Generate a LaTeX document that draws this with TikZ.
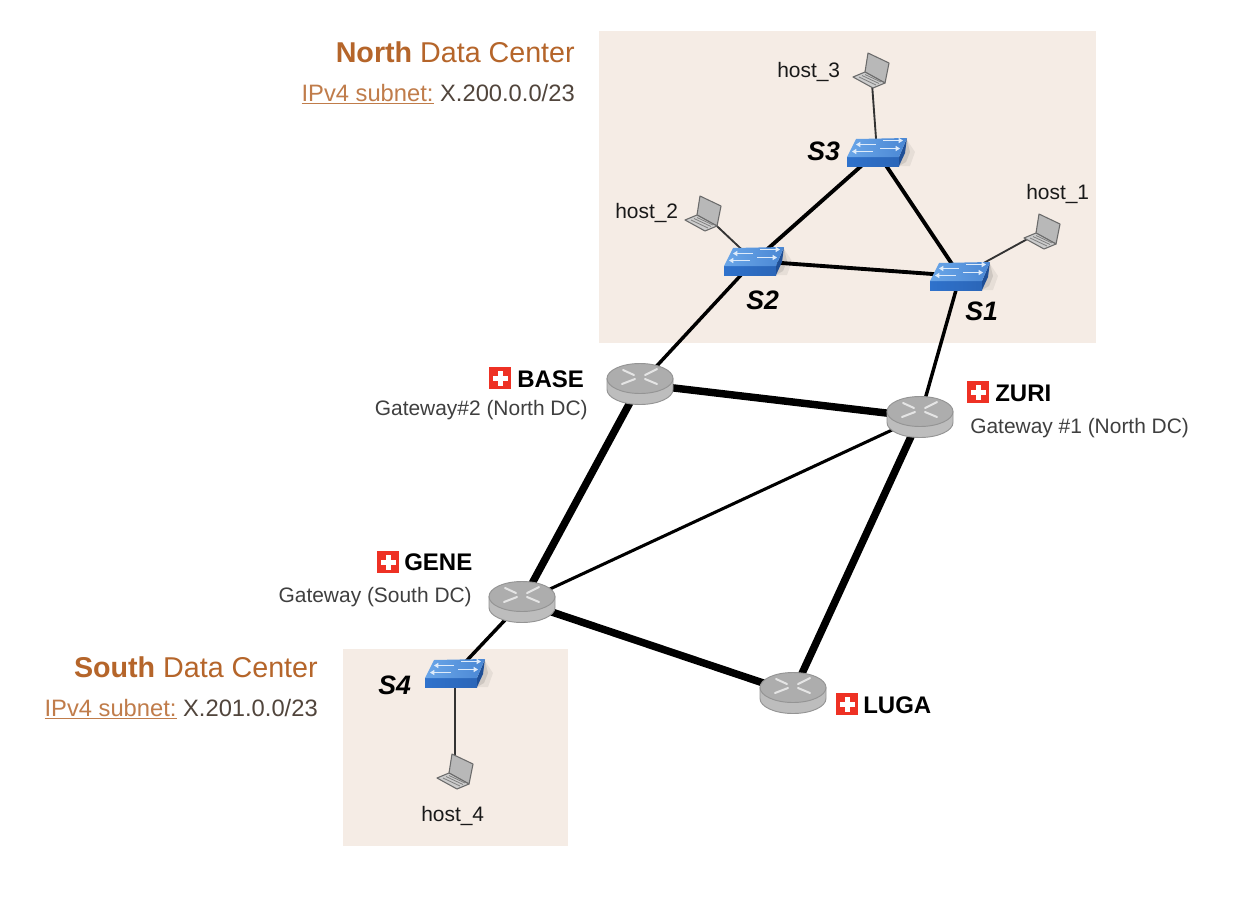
\documentclass[tikz,border=0pt]{standalone}
\usepackage{fontspec}
\setmainfont{Liberation Sans}
\usetikzlibrary{calc,arrows.meta}
\definecolor{panel}{HTML}{F5ECE5}
\definecolor{brownA}{HTML}{B5652A}
\definecolor{txt}{HTML}{3F3F3F}
\definecolor{flagred}{HTML}{EE3124}
\definecolor{HSBlue1}{HTML}{2B66B8}
\definecolor{HSBlue2}{HTML}{2F72CC}
\definecolor{HSBlue3}{HTML}{1F4F96}
\definecolor{HSBlue4}{HTML}{6AA6E8}
\definecolor{HSBlue5}{HTML}{4A87D4}
\tikzset{
  x=0.75pt,y=-0.75pt,
  panelbox/.style={fill=panel,draw=none},
  pt/.style={coordinate},
  heavy/.style={line width=5.6pt,black},
  medium/.style={line width=2.9pt,black},
  thinlink/.style={line width=2.3pt,black},
  slim/.style={line width=2.6pt,black},
  hostlink/.style={line width=1.4pt,black!80},
  title/.style={anchor=base east,inner sep=0pt,font=\fontsize{21.5}{24}\selectfont,text=brownA},
  subnet/.style={anchor=base east,inner sep=0pt,font=\fontsize{17.8}{20}\selectfont,text=brownA!85!white},
  gw/.style={inner sep=0pt,font=\fontsize{15.7}{18}\selectfont,text=txt},
  rname/.style={anchor=base west,inner sep=0pt,font=\fontsize{18}{20}\bfseries\selectfont,text=black},
  sname/.style={anchor=base west,inner sep=0pt,font=\fontsize{20}{24}\bfseries\itshape\selectfont,text=black},
  hname/.style={inner sep=0pt,font=\fontsize{15.7}{18}\selectfont,text=black!90},
  rarrow/.style={white!90!black,line width=1.5pt,line cap=round},
  swarrow/.style={white!78!HSBlue4,line width=1.1pt,-{Triangle[length=3.2pt,width=3.8pt]}},
  routericon/.pic={
    \draw[black!42,line width=.7pt,fill=black!26] (-33,-5.5) -- (-33,5.5) arc[start angle=180,end angle=0,x radius=33,y radius=15] -- (33,-5.5) -- cycle;
    \draw[black!42,line width=.7pt,fill=black!32] (0,-5.5) ellipse[x radius=33,y radius=15];
    \draw[rarrow] (-17,-14) -- (-6,-9);
    \draw[rarrow] (5,-9) -- (17,-15);
    \draw[rarrow] (-18,0) -- (-5,-5);
    \draw[rarrow] (5,-5) -- (17,0);
  },
  switchicon/.pic={
    \fill[black,opacity=.06] (22,14) -- (33,14) -- (38,0) -- (30,-12) -- cycle;
    \fill[black,opacity=.10] (22,14) -- (29,10) -- (33,0) -- (30,-12) -- cycle;
    \shade[left color=HSBlue2,right color=HSBlue1] (-30,5) -- (22,5) -- (22,14) -- (-30,14) -- cycle;
    \fill[HSBlue3] (22,5) -- (30,-14) -- (28,1) -- (22,14) -- cycle;
    \shade[left color=HSBlue4,right color=HSBlue5] (-21,-13) -- (30,-14) -- (22,5) -- (-30,5) -- cycle;
    \draw[swarrow] (6,-11.5) -- (26,-11.5);
    \draw[swarrow] (3,-3.5) -- (23,-3.5);
    \draw[swarrow] (-1,-7.5) -- (-21,-7.5);
    \draw[swarrow] (-4,-0.5) -- (-25,-0.5);
  },
  laptopicon/.pic={
    \fill[black!28,draw=black!58,line width=.8pt,line join=round] (-3,-17) -- (18,-7) -- (14,13) -- (-6,2) -- cycle;
    \fill[black!20,draw=black!58,line width=.8pt,line join=round] (-6,2) -- (14,13) -- (2,18) -- (-18,7) -- cycle;
    \draw[black!50,line width=.6pt] (-12,7) -- (5,15);
    \draw[black!50,line width=.6pt] (-9,5.5) -- (8,13.5);
    \draw[black!50,line width=.6pt] (-6,4.5) -- (10,12);
  },
  flagicon/.pic={
    \fill[flagred] (-11,-11) rectangle (11,11);
    \fill[white] (-7.5,-2.5) rectangle (7.5,2.5);
    \fill[white] (-2.5,-7.5) rectangle (2.5,7.5);
  }
}
\begin{document}
\begin{tikzpicture}
\useasboundingbox (0,0) rectangle (1260,896);
\fill[white] (0,0) rectangle (1260,896);
\fill[panelbox] (599,31) rectangle (1096,343);
\fill[panelbox] (343,649) rectangle (568,846);
% anchor points
\node[pt] (s3) at (877,152) {};
\node[pt] (s2) at (754,261) {};
\node[pt] (s1) at (960,276) {};
\node[pt] (s4) at (455,673) {};
\node[pt] (base) at (640,384) {};
\node[pt] (zuri) at (920,417) {};
\node[pt] (gene) at (522,602) {};
\node[pt] (luga) at (793,693) {};
\node[pt] (h3) at (871,70) {};
\node[pt] (h2) at (703,213) {};
\node[pt] (h1) at (1042,231) {};
\node[pt] (h4) at (455,771) {};
% links
\draw[heavy] (base) -- (zuri);
\draw[heavy] (base) -- (gene);
\draw[heavy] (zuri) -- (luga);
\draw[heavy] (gene) -- (luga);
\draw[thinlink] (zuri) -- (gene);
\draw[medium] (s3) -- (s2);
\draw[medium] (s3) -- (s1);
\draw[medium] (s2) -- (s1);
\draw[slim] (s2) -- (base);
\draw[slim] (s1) -- (zuri);
\draw[slim] (gene) -- (s4);
\draw[hostlink] (h3) -- (s3);
\draw[hostlink] (h2) -- (s2);
\draw[hostlink] (h1) -- (s1);
\draw[hostlink] (h4) -- (s4);
% icons
\foreach \p in {s1,s2,s3,s4} \pic at (\p) {switchicon};
\foreach \p in {base,zuri,gene,luga} \pic at (\p) {routericon};
\foreach \p in {h1,h2,h3,h4} \pic at (\p) {laptopicon};
\pic at (500,378) {flagicon};
\pic at (978,392) {flagicon};
\pic at (388,562) {flagicon};
\pic at (847,704) {flagicon};
% text
\node[title] (tn) at (575,62) {\textbf{North} Data Center};
\node[subnet] (sn) at (575,101) {\underline{IPv4 subnet:} \textcolor{txt!85!brownA}{X.200.0.0/23}};
\node[title] (ts) at (318,677) {\textbf{South} Data Center};
\node[subnet] (ss) at (318,716) {\underline{IPv4 subnet:} \textcolor{txt!85!brownA}{X.201.0.0/23}};
\node[rname] (lb) at (517,387) {BASE};
\node[rname] (lz) at (995,401) {ZURI};
\node[rname] (lg) at (404,570) {GENE};
\node[rname] (ll) at (863,713) {LUGA};
\node[gw,anchor=base east] (gb) at (588,415) {Gateway\#2 (North DC)};
\node[gw,anchor=base west] (gz) at (970,433) {Gateway \#1 (North DC)};
\node[gw,anchor=base east] (gg) at (472,602) {Gateway (South DC)};
\node[sname] (l3) at (807,160) {S3};
\node[sname] (l2) at (746,309) {S2};
\node[sname] (l1) at (965,320) {S1};
\node[sname] (l4) at (378,694) {S4};
\node[hname,anchor=base west] (t3) at (777,77) {host\_3};
\node[hname,anchor=base west] (t2) at (615,218) {host\_2};
\node[hname,anchor=base west] (t1) at (1026,199) {host\_1};
\node[hname,anchor=base west] (t4) at (421,821) {host\_4};
\end{tikzpicture}
\end{document}
